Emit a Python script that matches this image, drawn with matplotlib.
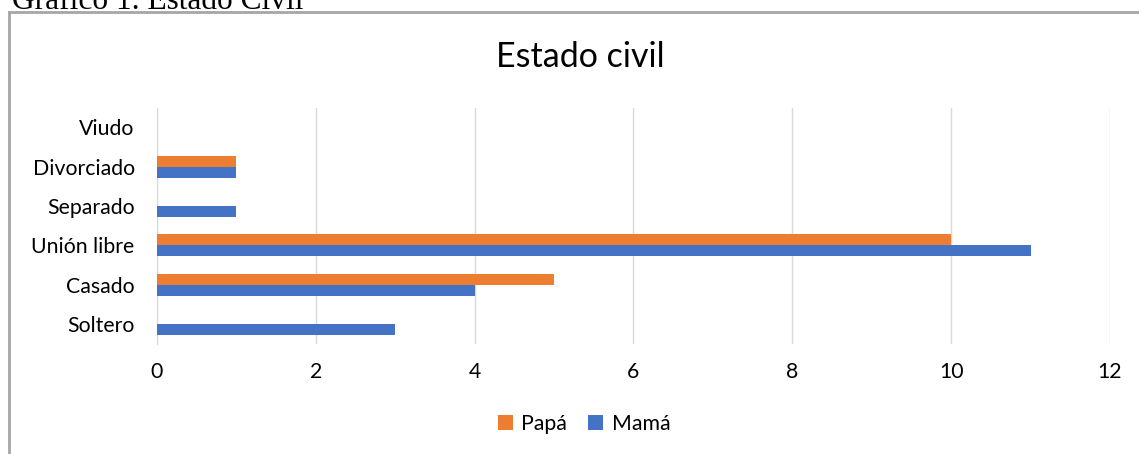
import matplotlib.pyplot as plt
import numpy as np

plt.rcParams['font.family'] = ['Lato', 'DejaVu Sans']

# Data
categories = ["Soltero", "Casado", "Unión libre", "Separado", "Divorciado", "Viudo"]
papa = [0, 5, 10, 0, 1, 0]
mama = [3, 4, 11, 1, 1, 0]

orange = "#ED7D31"
blue = "#4472C4"

fig = plt.figure(figsize=(11.39, 4.54), dpi=100)

# Caption partially cut at the top of the page
fig.text(12 / 1139, 1 - 9 / 454, "Gráfico 1. Estado Civil", family="Liberation Serif",
         fontsize=22.6, va="baseline", ha="left", color="black")

# Chart frame (left and top edges only visible)
fig.add_artist(plt.Line2D([0.0079, 0.0079], [0.0, 0.974], transform=fig.transFigure,
                          color="#a6a6a6", linewidth=2))
fig.add_artist(plt.Line2D([0.0079, 1.0], [0.974, 0.974], transform=fig.transFigure,
                          color="#a6a6a6", linewidth=2))

ax = fig.add_axes([0.1378, 0.243, 0.8367, 0.52])
y = np.arange(len(categories))
h = 0.28
ax.barh(y + h / 2, papa, height=h, color=orange, label="Papá", zorder=3)
ax.barh(y - h / 2, mama, height=h, color=blue, label="Mamá", zorder=3)

ax.set_xlim(0, 12)
ax.set_ylim(-0.5, len(categories) - 0.5)
ax.set_xticks(range(0, 13, 2))
ax.set_yticks(y)
ax.set_yticklabels(categories)
ax.tick_params(axis="both", length=0, labelsize=15.3, colors="#000000")
ax.tick_params(axis="y", pad=16)
ax.tick_params(axis="x", pad=13)
ax.grid(axis="x", color="#d9d9d9", linewidth=1, zorder=0)
for side in ["top", "right", "bottom"]:
    ax.spines[side].set_visible(False)
ax.spines["left"].set_color("#d9d9d9")

fig.text(580 / 1139, 1 - 57 / 454, "Estado civil", fontsize=24.5, color="#000000",
         ha="center", va="center")

ax.legend(loc="center", bbox_to_anchor=(584 / 1139, 1 - 424 / 454),
          bbox_transform=fig.transFigure, ncol=2, frameon=False,
          fontsize=15.3, handlelength=0.7, handleheight=0.7, handletextpad=0.4,
          columnspacing=1.0)

fig.savefig("out.png", dpi=100)
